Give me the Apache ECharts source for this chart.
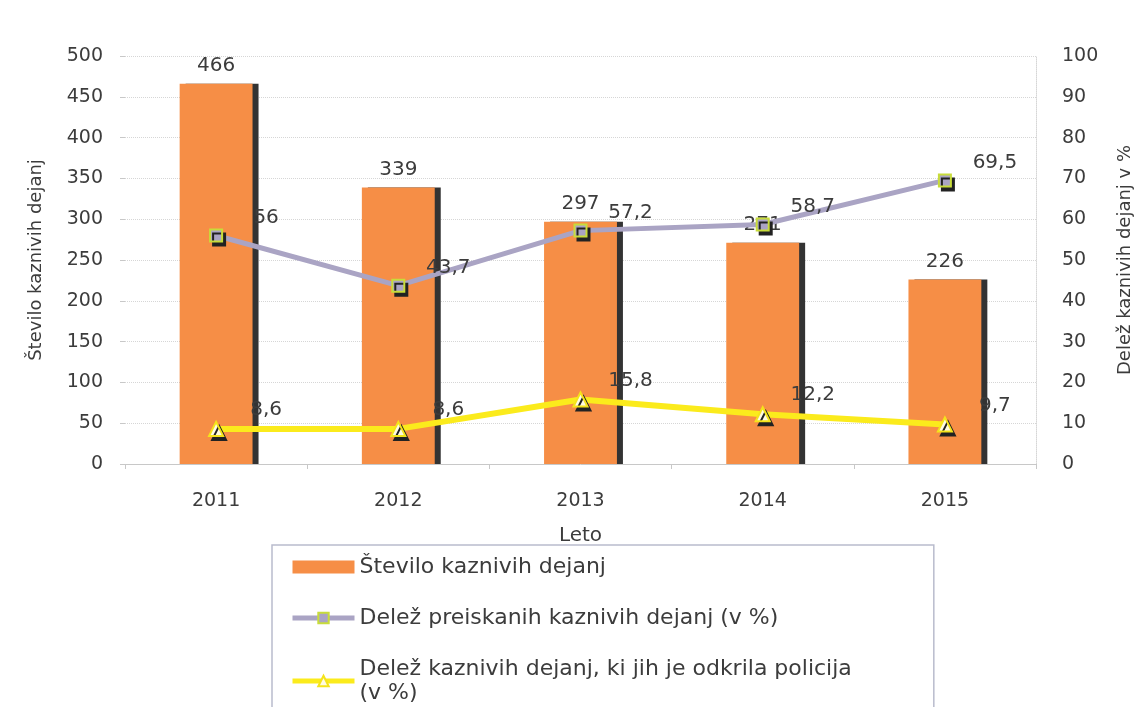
<!DOCTYPE html>
<html>
<head>
<meta charset="utf-8">
<script src="https://cdn.jsdelivr.net/npm/echarts@6/dist/echarts.min.js"></script>
<style>
  html, body { margin: 0; padding: 0; background: #fff; }
  #chart { width: 1140px; height: 707px; }
</style>
</head>
<body>
<div id="chart"></div>
<script>
const years = ['2011', '2012', '2013', '2014', '2015'];
const cases = [466, 339, 297, 271, 226];
const investigated = [56, 43.7, 57.2, 58.7, 69.5];
const detected = [8.6, 8.6, 15.8, 12.2, 9.7];

const font = 'DejaVu Sans';
const textColor = '#3c3c3c';
const comma = p => String(p.value).replace('.', ',');

const lineLabel = {
  show: true,
  position: 'top',
  offset: [50, 4],
  fontFamily: font,
  fontSize: 20,
  color: textColor,
  formatter: comma
};

const chart = echarts.init(document.getElementById('chart'));
chart.setOption({
  backgroundColor: '#fff',
  textStyle: { fontFamily: font },
  grid: { left: 125, right: 104, top: 56, bottom: 243, outerBoundsMode: 'none', containLabel: false },
  legend: {
    orient: 'vertical',
    left: 272,
    top: 545,
    height: 220,
    padding: [10, 82, 40, 18],
    itemGap: 27,
    itemWidth: 62,
    itemHeight: 13,
    backgroundColor: '#fff',
    borderColor: '#b9bccd',
    borderWidth: 1.5,
    lineStyle: { width: 5 },
    textStyle: { fontFamily: font, fontSize: 22, color: textColor, lineHeight: 24 },
    formatter: name => name.replace('policija ', 'policija\n'),
    data: [
      { name: 'Število kaznivih dejanj', icon: 'rect' },
      'Delež preiskanih kaznivih dejanj (v %)',
      'Delež kaznivih dejanj, ki jih je odkrila policija (v %)'
    ]
  },
  xAxis: {
    type: 'category',
    data: years,
    name: 'Leto',
    nameLocation: 'middle',
    nameGap: 62,
    nameTextStyle: { fontFamily: font, fontSize: 20, color: textColor },
    axisLine: { lineStyle: { color: '#c8c8c8' } },
    axisTick: { show: true, length: 5, lineStyle: { color: '#c8c8c8' } },
    axisLabel: { margin: 28, fontFamily: font, fontSize: 19, color: textColor }
  },
  yAxis: [
    {
      type: 'value',
      min: 0, max: 500, interval: 50,
      name: 'Število kaznivih dejanj',
      nameLocation: 'middle',
      nameRotate: 90,
      nameGap: 80,
      nameTextStyle: { fontFamily: font, fontSize: 18, color: textColor },
      axisLine: { show: false },
      axisTick: { show: true, length: 5, lineStyle: { color: '#c8c8c8' } },
      axisLabel: { margin: 22, fontFamily: font, fontSize: 19, color: textColor },
      splitLine: { lineStyle: { color: '#d6d6d6', type: 'dotted' } }
    },
    {
      type: 'value',
      min: 0, max: 100, interval: 10,
      name: 'Delež kaznivih dejanj v %',
      nameLocation: 'middle',
      nameRotate: 90,
      nameGap: 80,
      nameTextStyle: { fontFamily: font, fontSize: 18, color: textColor },
      axisLine: { show: true, lineStyle: { color: '#d6d6d6', type: 'dotted' } },
      axisTick: { show: false },
      axisLabel: { margin: 26, fontFamily: font, fontSize: 19, color: textColor },
      splitLine: { show: false }
    }
  ],
  series: [
    {
      name: 'Število kaznivih dejanj',
      type: 'bar',
      data: cases,
      barWidth: '40%',
      itemStyle: {
        color: '#f68e46',
        shadowColor: '#333',
        shadowOffsetX: 6,
        shadowOffsetY: 0,
        shadowBlur: 0
      },
      label: {
        show: true,
        position: 'top',
        distance: 8,
        fontFamily: font,
        fontSize: 20,
        color: textColor
      }
    },
    {
      name: 'Delež preiskanih kaznivih dejanj (v %)',
      type: 'line',
      yAxisIndex: 1,
      data: investigated,
      symbol: 'rect',
      symbolSize: 12,
      lineStyle: { color: '#aaa4c4', width: 5 },
      itemStyle: {
        color: '#aaa4c4',
        borderColor: '#c8dc3a',
        borderWidth: 2,
        shadowColor: '#222',
        shadowOffsetX: 3,
        shadowOffsetY: 4,
        shadowBlur: 0
      },
      label: lineLabel
    },
    {
      name: 'Delež kaznivih dejanj, ki jih je odkrila policija (v %)',
      type: 'line',
      yAxisIndex: 1,
      data: detected,
      symbol: 'triangle',
      symbolSize: 14,
      lineStyle: { color: '#fbeb1c', width: 6 },
      itemStyle: {
        color: '#fffbe0',
        borderColor: '#f5e41a',
        borderWidth: 2,
        shadowColor: '#222',
        shadowOffsetX: 3,
        shadowOffsetY: 4,
        shadowBlur: 0
      },
      label: lineLabel
    }
  ]
});
</script>
</body>
</html>
